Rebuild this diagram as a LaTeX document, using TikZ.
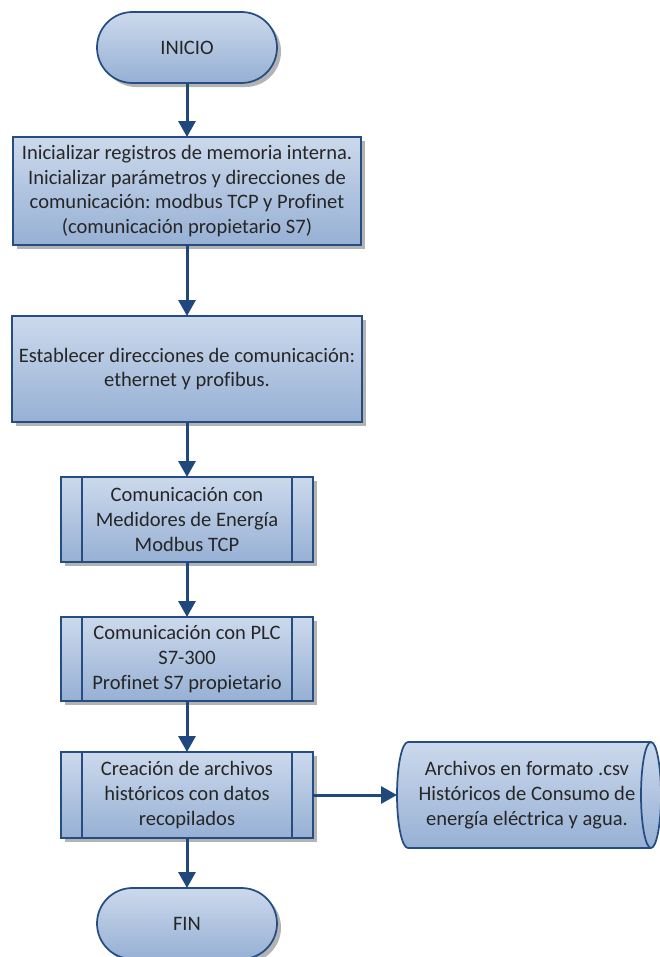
\documentclass[tikz,border=0pt]{standalone}
\usepackage{fontspec}
\setmainfont{Carlito}[Ligatures=CommonOff]
\usetikzlibrary{shadows,arrows.meta}

\definecolor{boxedge}{RGB}{37,77,130}
\definecolor{flowline}{RGB}{31,73,125}
\definecolor{filltop}{RGB}{204,217,236}
\definecolor{fillbot}{RGB}{150,176,212}
\definecolor{inktext}{RGB}{38,38,38}

\begin{document}
\frenchspacing
\begin{tikzpicture}[x=0.75pt,y=-0.75pt,
  every node/.style={font=\fontsize{15.4}{18.5}\selectfont, text=inktext,
    align=center, outer sep=0pt, inner sep=0pt},
  blockshade/.style={top color=filltop, bottom color=fillbot, draw=boxedge,
    line width=1.3pt,
    drop shadow={shadow xshift=3pt, shadow yshift=-3pt, fill=black!50, opacity=.6}},
  terminal/.style={blockshade, rounded corners=26.6pt,
    minimum width=135pt, minimum height=53.25pt},
  process/.style={blockshade},
  subproc/.style={blockshade, minimum width=189pt},
  flow/.style={draw=flowline, line width=2.25pt,
    -{Triangle[width=12.75pt,length=12pt]}}
]
\useasboundingbox (0,0) rectangle (660,957);

% start and end terminals
\node[terminal] (start) at (187,47.5) {INICIO};
\node[terminal] (fin) at (187,923.5) {FIN};

% process blocks
\node[process, minimum width=261pt, minimum height=81pt] (b1) at (187,191)
  {Inicializar registros de memoria interna.\\
   Inicializar parámetros y direcciones de\\
   comunicación: modbus TCP y Profinet\\
   (comunicación propietario S7)};
\node[process, minimum width=262.5pt, minimum height=79.5pt] (b2) at (187,369)
  {Establecer direcciones de comunicación:\\ ethernet y profibus.};

% predefined processes
\node[subproc, minimum height=63.75pt] (b3) at (187,519.5)
  {Comunicación con\\ Medidores de Energía\\ Modbus TCP};
\node[subproc, minimum height=63pt] (b4) at (187,659)
  {Comunicación con PLC\\ S7-300\\ Profinet S7 propietario};
\node[subproc, minimum height=64.5pt] (b5) at (187,795)
  {Creación de archivos\\ históricos con datos\\ recopilados};

\foreach \n in {b3,b4,b5}{
  \draw[boxedge, line width=1.3pt]
    ([xshift=15.75pt]\n.north west) -- ([xshift=15.75pt]\n.south west)
    ([xshift=-15.75pt]\n.north east) -- ([xshift=-15.75pt]\n.south east);
}

% stored data (horizontal cylinder)
\path[top color=filltop, bottom color=fillbot, draw=boxedge, line width=1.3pt]
  (408,742) -- (651,742)
  arc[start angle=90, end angle=-90, x radius=7.5pt, y radius=39.75pt]
  -- (408,848)
  arc[start angle=270, end angle=90, x radius=8.25pt, y radius=39.75pt]
  -- cycle;
\draw[boxedge, line width=1.3pt] (651,742)
  arc[start angle=90, end angle=270, x radius=7.5pt, y radius=39.75pt];
\node[minimum width=190.5pt, minimum height=79.5pt] (ds) at (524,795)
  {\hspace*{4.5pt}Archivos en formato .csv\\
   \hspace*{4.5pt}Históricos de Consumo de\\
   \hspace*{4.5pt}energía eléctrica y agua.};

% connectors
\draw[flow] (start) -- (b1);
\draw[flow] (b1) -- (b2);
\draw[flow] (b2) -- (b3);
\draw[flow] (b3) -- (b4);
\draw[flow] (b4) -- (b5);
\draw[flow] (b5) -- (fin);
\draw[flow] (b5) -- (ds);
\end{tikzpicture}
\end{document}
